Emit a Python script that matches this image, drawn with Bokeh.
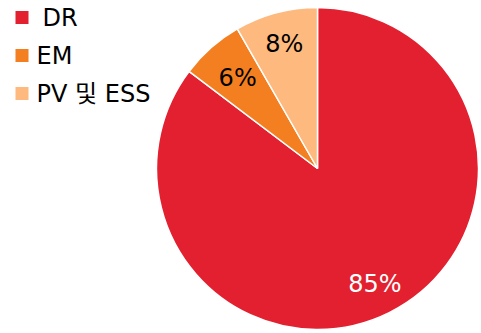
import math
from bokeh.plotting import figure
from bokeh.models import Range1d, ColumnDataSource
from bokeh.core.properties import value
from bokeh.embed import file_html
from bokeh.resources import INLINE

categories = ["DR", "EM", "PV 및 ESS"]
shares = [85.3, 6.4, 8.3]
labels = ["85%", "6%", "8%"]
colors = ["#E3202F", "#F37F21", "#FDB97E"]
label_colors = ["white", "black", "black"]

FONT = value("DejaVu Sans, Noto Sans CJK KR")

W, H = 481, 333
p = figure(width=W, height=H, output_backend="svg", toolbar_location=None,
           x_range=Range1d(0, W), y_range=Range1d(0, H), min_border=0)
p.axis.visible = False
p.grid.visible = False
p.outline_line_color = None
p.background_fill_color = "white"

cx, cy, r = 317, 333 - 168, 161
total = sum(shares)
starts, ends, lx, ly = [], [], [], []
c = 0.0
for s in shares:
    c0 = c / total
    c1 = (c + s) / total
    c += s
    starts.append(math.pi / 2 - 2 * math.pi * c1)
    ends.append(math.pi / 2 - 2 * math.pi * c0)
    mid = (c0 + c1) / 2 * 2 * math.pi
    f = 0.8 if s > 7 else 0.75
    lx.append(cx + f * r * math.sin(mid))
    ly.append(cy + f * r * math.cos(mid))

src = ColumnDataSource(dict(start=starts, end=ends, color=colors,
                            lx=lx, ly=ly, label=labels, lc=label_colors))
p.wedge(x=cx, y=cy, radius=r, start_angle="start", end_angle="end",
        fill_color="color", line_color="white", line_width=1.5, source=src)
p.text(x="lx", y="ly", text="label", text_color="lc", text_align="center",
       text_baseline="middle", text_font=FONT,
       text_font_size="24px", source=src)

# legend
ys = [H - 17, H - 55, H - 93]
tx = [42, 36, 36]
lsrc = ColumnDataSource(dict(x=[21.5] * 3, y=ys, color=colors, tx=tx, t=categories))
p.scatter(x="x", y="y", size=13, marker="square", fill_color="color",
          line_color=None, source=lsrc)
p.text(x="tx", y="y", text="t", text_color="black",
       text_baseline="middle", text_font=FONT,
       text_font_size="24px", source=lsrc)

open("out.html", "w").write(file_html(p, INLINE))
